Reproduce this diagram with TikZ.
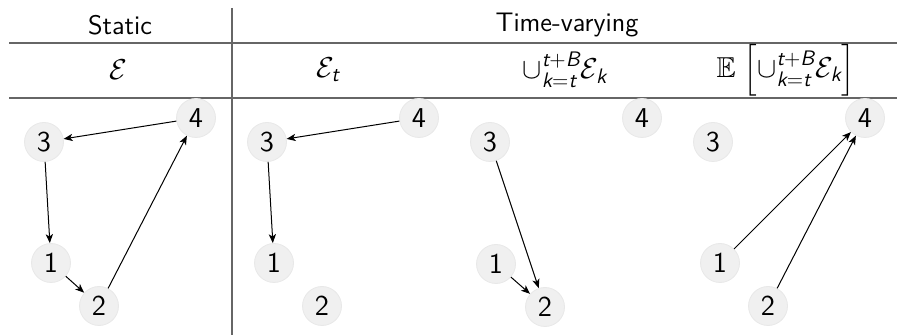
\documentclass[tikz,border=0pt]{standalone}
\usepackage{amsmath,amssymb}
\usetikzlibrary{arrows.meta}
\newcommand\si[1]{\mbox{\fontsize{10.5}{11}\selectfont\sffamily\itshape #1}}
\newcommand\ueq{\upshape=\itshape}
\newcommand\upl{\upshape+\itshape}
\newcommand\unionE{{\mathord{\cup}}_{\si{k\ueq t}}^{\si{t\upl B}}\mathcal{E}_{\si{k}}}
\begin{document}
\begin{tikzpicture}[x=0.5pt,y=-0.5pt,
  vtx/.style={circle,fill=black!6,draw=black!9,line width=0.4pt,minimum size=19.5pt,inner sep=0pt,font=\sffamily\Large},
  edge/.style={-{Stealth[length=4.5pt,width=3.6pt,inset=1.2pt]},line width=0.5pt,black},
  rule/.style={line width=0.9pt,black!60},
  head/.style={font=\sffamily\fontsize{13.4}{15}\selectfont,inner sep=0pt},
  mhead/.style={font=\sffamily\fontsize{14.4}{17}\selectfont,inner sep=0pt}]
\useasboundingbox (0,0) rectangle (897,335);
% table rules
\coordinate (hl1) at (9,43); \coordinate (hr1) at (897,43);
\coordinate (hl2) at (9,98); \coordinate (hr2) at (897,98);
\coordinate (vt) at (232,8); \coordinate (vb) at (232,335);
\draw[rule] (hl1) -- (hr1);
\draw[rule] (hl2) -- (hr2);
\draw[rule] (vt) -- (vb);
% headers
\node[head] (hs) at (120,25) {Static};
\node[head] (ht) at (567,25) {Time-varying};
\node[mhead] (c1) at (118,70) {$\mathcal{E}$};
\node[mhead] (c2) at (328,70) {$\mathcal{E}_{\si{t}}$};
\node[mhead] (c3) at (565,70) {$\unionE$};
\node[mhead] (c4) at (786,70) {$\mathbb{E}\;\Big[\unionE\Big]$};
% panel 1
\node[vtx] (a3) at (44,142) {3};
\node[vtx] (a4) at (196,118) {4};
\node[vtx] (a1) at (51,263) {1};
\node[vtx] (a2) at (99,306) {2};
\draw[edge] (a4) -- (a3);
\draw[edge] (a3) -- (a1);
\draw[edge] (a1) -- (a2);
\draw[edge] (a2) -- (a4);
% panel 2
\node[vtx] (b3) at (267,142) {3};
\node[vtx] (b4) at (419,118) {4};
\node[vtx] (b1) at (274,263) {1};
\node[vtx] (b2) at (322,306) {2};
\draw[edge] (b4) -- (b3);
\draw[edge] (b3) -- (b1);
% panel 3
\node[vtx] (c3n) at (490,142) {3};
\node[vtx] (c4n) at (642,118) {4};
\node[vtx] (c1n) at (496,264) {1};
\node[vtx] (c2n) at (545,307) {2};
\draw[edge] (c3n) -- (c2n);
\draw[edge] (c1n) -- (c2n);
% panel 4
\node[vtx] (d3) at (713,142) {3};
\node[vtx] (d4) at (865,118) {4};
\node[vtx] (d1) at (720,263) {1};
\node[vtx] (d2) at (768,306) {2};
\draw[edge] (d1) -- (d4);
\draw[edge] (d2) -- (d4);
\end{tikzpicture}
\end{document}
